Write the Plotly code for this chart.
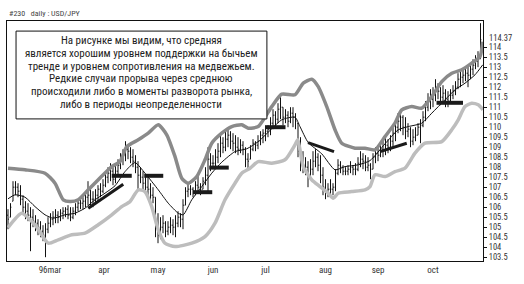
import plotly.graph_objects as go

# ---------------- data ----------------
highs = [105.9,106.2,107.3,107.3,107.2,107.1,106.6,106.3,106.2,106.0,
         105.9,105.6,105.4,105.3,105.1,105.2,105.5,105.7,105.8,105.9,
         105.8,105.9,106.0,106.0,106.1,106.0,106.0,106.2,106.4,106.4,
         106.5,106.8,107.3,106.9,106.8,106.9,107.1,107.2,107.4,107.8,
         108.0,108.2,108.0,108.1,108.4,108.7,108.9,109.3,109.1,109.0,
         108.9,108.6,108.3,108.0,107.8,107.6,107.5,107.2,107.0,106.5,
         105.7,105.5,105.6,105.3,105.3,105.5,105.4,105.6,105.8,105.7,
         106.4,107.0,107.2,107.1,107.0,107.3,107.6,107.2,107.5,108.0,
         109.0,108.7,108.6,108.9,109.2,109.6,109.5,109.9,110.0,109.8,
         109.7,109.6,109.5,109.4,109.3,109.0,108.7,109.1,109.4,109.3,
         109.6,109.8,109.9,110.0,110.1,110.5,110.9,110.8,111.2,111.5,
         111.0,110.9,110.8,111.0,111.0,110.7,110.2,109.5,108.8,108.5,
         108.3,108.4,108.8,108.9,108.7,108.6,108.0,107.4,107.2,107.4,
         107.2,107.9,108.4,108.3,108.1,108.0,108.1,108.3,108.1,108.2,
         108.5,108.8,108.7,108.6,108.5,108.2,108.7,109.0,109.0,109.2,
         109.4,109.5,109.4,109.6,110.0,110.4,110.7,110.9,110.6,110.5,
         110.2,110.0,109.9,110.0,110.2,110.4,110.8,111.3,111.7,111.9,
         112.0,112.4,112.2,112.0,112.1,111.9,111.8,111.9,112.1,112.3,
         112.7,112.8,112.9,113.0,113.1,113.2,113.4,113.6,113.8,115.2]
lows = [104.9,105.5,106.3,106.6,106.5,106.1,105.7,105.4,105.3,103.8,
        105.0,104.8,104.6,104.5,104.3,103.5,104.7,105.0,105.1,105.2,
        105.2,105.3,105.4,105.5,105.4,105.3,105.4,105.6,105.8,105.9,
        105.9,106.0,106.1,106.1,106.0,106.2,106.3,106.5,106.7,107.0,
        107.2,107.3,107.1,107.2,107.6,107.9,108.1,108.3,108.4,108.2,
        108.0,107.7,106.8,107.2,106.9,106.7,106.6,106.3,106.2,104.5,
        104.2,104.4,104.7,104.5,104.6,104.7,104.6,104.5,105.0,105.0,
        104.9,106.1,106.5,106.6,106.5,106.6,106.8,106.6,106.9,107.1,
        106.7,107.8,107.9,108.0,108.2,108.5,108.7,108.8,109.0,108.9,
        108.8,108.7,108.6,108.7,108.6,108.0,107.9,108.4,108.8,108.8,
        108.9,109.1,109.2,109.3,109.5,109.6,109.9,110.0,110.2,110.4,
        110.1,110.2,110.0,110.2,110.0,109.9,108.5,107.8,107.7,107.6,
        107.0,107.4,107.6,108.0,107.8,107.2,106.6,106.4,106.5,106.5,
        106.6,106.8,107.6,107.7,107.6,107.6,107.6,107.7,107.6,107.6,
        107.8,108.0,107.9,107.8,107.8,107.4,107.9,108.2,108.3,108.5,
        108.5,108.6,108.7,108.8,109.0,109.3,109.7,109.8,109.6,109.4,
        109.5,109.0,109.1,109.3,109.6,109.2,110.0,110.3,110.8,110.9,
        111.0,111.3,111.4,111.1,111.3,111.0,111.0,111.2,111.4,111.6,
        111.9,112.0,112.2,112.3,112.0,112.4,112.6,112.9,113.0,113.4]
closes = [105.4,106.0,107.0,107.0,106.8,106.4,106.0,105.8,105.6,105.5,
          105.3,105.2,105.0,104.8,104.6,104.9,105.2,105.4,105.5,105.6,
          105.5,105.7,105.8,105.9,105.6,105.5,105.8,106.0,106.2,106.2,
          106.3,106.5,106.6,106.4,106.4,106.6,106.9,106.8,107.1,107.5,
          107.7,107.8,107.4,107.8,108.1,108.5,108.6,108.9,108.8,108.5,
          108.3,108.0,107.6,107.5,107.2,107.0,106.9,106.6,106.5,105.0,
          104.6,105.0,105.2,104.8,105.0,105.1,105.0,105.2,105.5,105.4,
          106.1,106.8,106.9,106.9,106.8,107.1,107.0,106.9,107.3,107.6,
          108.4,108.2,108.2,108.5,108.8,109.2,109.0,109.4,109.6,109.3,
          109.2,109.0,108.9,109.1,108.9,108.4,108.3,108.9,109.2,109.1,
          109.3,109.6,109.7,109.8,109.9,110.2,110.6,110.4,110.9,111.0,
          110.5,110.6,110.3,110.7,110.5,110.3,108.8,108.2,108.1,108.0,
          107.6,107.9,108.3,108.5,108.1,107.6,107.0,106.8,106.9,106.9,
          107.0,107.7,108.1,108.0,107.8,107.8,107.9,108.0,107.9,107.9,
          108.2,108.4,108.3,108.0,108.1,107.9,108.5,108.7,108.6,108.9,
          108.8,109.1,109.0,109.3,109.7,110.0,110.3,110.5,110.0,109.8,
          109.9,109.3,109.5,109.6,110.0,110.1,110.5,111.0,111.3,111.4,
          111.6,111.9,111.8,111.5,111.7,111.4,111.3,111.6,111.8,112.0,
          112.4,112.5,112.6,112.7,112.6,112.9,113.1,113.3,113.5,114.37]
opens = [105.6,105.5,106.3,107.0,107.0,106.8,106.4,106.0,105.8,105.6,
         105.5,105.3,105.2,105.0,104.8,104.6,104.9,105.2,105.4,105.5,
         105.6,105.5,105.7,105.8,105.9,105.6,105.5,105.8,106.0,106.2,
         106.2,106.3,106.5,106.6,106.4,106.4,106.6,106.9,106.8,107.1,
         107.5,107.7,107.8,107.4,107.8,108.1,108.5,108.6,108.9,108.8,
         108.5,108.3,108.0,107.6,107.5,107.2,107.0,106.9,106.6,106.5,
         105.0,104.6,105.0,105.2,104.8,105.0,105.1,105.0,105.2,105.5,
         105.4,106.1,106.8,106.9,106.9,106.8,107.1,107.0,106.9,107.3,
         107.6,108.4,108.2,108.2,108.5,108.8,109.2,109.0,109.4,109.6,
         109.3,109.2,109.0,108.9,109.1,108.9,108.4,108.4,108.9,109.2,
         109.1,109.3,109.6,109.7,109.8,109.9,110.2,110.6,110.4,110.9,
         111.0,110.5,110.6,110.3,110.7,110.5,110.2,108.8,108.2,108.1,
         108.0,107.6,107.9,108.3,108.5,108.1,107.6,107.0,106.8,106.9,
         106.9,107.0,107.7,108.1,108.0,107.8,107.8,107.9,108.0,107.9,
         107.9,108.2,108.4,108.3,108.0,108.1,107.9,108.5,108.7,108.6,
         108.9,108.8,109.1,109.0,109.3,109.7,110.0,110.3,110.5,110.0,
         109.8,109.9,109.3,109.5,109.6,110.0,110.1,110.5,111.0,111.3,
         111.4,111.6,111.9,111.8,111.5,111.7,111.4,111.3,111.6,111.8,
         112.0,112.4,112.5,112.6,112.7,112.6,112.9,113.1,113.3,113.5]
bar_index = list(range(len(closes)))

ma_x = [0,2.8,6.8,10.8,14.8,18.1,22.8,26.8,30.8,34.8,38.8,42.8,46.8,50.8,54.8,60.1,64.1,68.1,70.1,
        73.5,77.5,81.5,85.5,90.8,95.5,100.1,105.5,109.5,114.8,116.8,120.1,125.5,130.8,134.8,140.1,
        144.8,150.8,156.1,160.1,165.5,169.5,174.8,178.8,182.8,186.8,189.9]
ma_y = [106.42,106.62,106.50,106.03,105.62,105.45,105.62,105.70,105.95,106.37,106.70,107.07,107.78,
        108.23,107.70,106.87,106.20,105.70,105.62,106.37,107.03,107.70,108.25,108.78,108.92,109.28,
        109.92,110.37,110.50,110.03,109.23,108.67,107.87,108.03,108.12,108.33,109.17,109.87,110.03,
        110.20,110.70,111.37,111.87,112.20,112.62,113.12]

upper_x = [0,6.8,14.8,18.8,22.1,24.8,28.1,32.1,36.1,41.5,44.8,47.5,52.1,56.1,60.1,63.5,66.8,69.5,
           72.1,75.5,78.8,81.5,85.5,89.5,93.5,96.1,100.1,105.5,109.5,114.8,118.1,121.5,124.1,127.5,
           130.8,133.5,138.8,142.8,146.8,150.8,154.8,157.5,161.5,165.5,169.5,173.5,177.5,181.5,
           185.5,188.8,189.9]
upper_y = [107.95,107.87,107.70,107.20,106.37,106.28,106.37,106.87,107.37,108.03,108.28,109.03,
           109.37,109.70,110.12,109.62,108.53,107.45,107.20,107.53,108.37,109.20,109.70,110.03,
           110.12,109.95,110.03,111.03,111.65,111.62,112.20,112.40,112.03,111.03,109.87,109.20,
           108.95,108.95,108.87,109.53,110.20,110.87,111.03,110.95,111.53,112.28,112.70,112.87,
           113.20,113.53,114.28]

lower_x = [0,5.5,10.8,16.1,20.1,25.5,30.8,36.1,41.5,45.5,48.8,52.1,54.8,57.5,60.1,62.8,66.8,73.5,
           78.8,82.8,86.8,90.8,93.5,96.8,100.1,105.5,110.8,114.8,115.9,116.8,118.1,121.5,124.8,
           128.1,130.1,132.1,137.5,142.8,144.8,146.8,150.8,154.8,158.8,162.8,166.8,173.5,177.5,
           180.1,182.8,185.5,188.1,190.0]
lower_y = [104.98,105.70,105.12,104.20,104.37,104.62,104.70,105.12,105.62,106.03,106.28,106.87,
           106.78,106.03,104.87,104.20,104.03,104.20,104.53,105.20,106.37,107.20,107.70,107.95,
           108.28,108.20,108.37,109.12,109.37,108.87,108.03,107.37,107.03,106.70,106.45,106.70,
           106.78,106.87,107.03,107.62,107.53,107.78,107.95,108.70,109.20,109.28,109.87,110.37,
           111.03,111.20,111.12,110.87]

seg_x0 = [32.1, 41.5, 54.5, 74.0, 80.5, 102.8, 120.0, 148.8, 171.4]
seg_x1 = [46.1, 49.5, 62.1, 81.7, 88.3, 111.0, 130.4, 159.5, 182.0]
seg_y0 = [105.95, 107.57, 107.57, 106.75, 107.98, 110.0, 109.23, 108.78, 111.22]
seg_y1 = [107.15, 107.57, 107.57, 106.75, 107.98, 110.0, 108.78, 109.20, 111.22]

month_pos = [16.8, 38.4, 60.0, 82.0, 103.0, 127.0, 148.0, 170.0]
month_labels = ["96mar", "apr", "may", "jun", "jul", "aug", "sep", "oct"]

y_ticks = [103.5,104,104.5,105,105.5,106,106.5,107,107.5,108,108.5,109,109.5,
           110,110.5,111,111.5,112,112.5,113,113.5,114]
last_price = 114.37

title_text = "#230   daily : USD/JPY"
note_lines = ["На рисунке мы видим, что средняя",
              "является хорошим уровнем поддержки на бычьем",
              "тренде и уровнем сопротивления на медвежьем.",
              "Редкие случаи прорыва через среднюю",
              "происходили либо в моменты разворота рынка,",
              "либо в периоды неопределенности"]

# ---------------- figure ----------------
FONT = "Liberation Sans Narrow, Roboto Condensed, Liberation Sans, Arial, sans-serif"

fig = go.Figure()
fig.add_trace(go.Ohlc(x=bar_index, open=opens, high=highs, low=lows, close=closes,
                      increasing=dict(line=dict(color="#111111", width=1)),
                      decreasing=dict(line=dict(color="#111111", width=1)),
                      tickwidth=0.35, hoverinfo="skip", showlegend=False))
fig.add_trace(go.Scatter(x=upper_x, y=upper_y, mode="lines",
                         line=dict(color="#8a8a8a", width=3.5, shape="spline", smoothing=0.6),
                         hoverinfo="skip", showlegend=False))
fig.add_trace(go.Scatter(x=lower_x, y=lower_y, mode="lines",
                         line=dict(color="#bdbdbd", width=3.5, shape="spline", smoothing=0.6),
                         hoverinfo="skip", showlegend=False))
fig.add_trace(go.Scatter(x=ma_x, y=ma_y, mode="lines",
                         line=dict(color="#111111", width=1, shape="spline", smoothing=0.6),
                         hoverinfo="skip", showlegend=False))
for a, b, c, d in zip(seg_x0, seg_x1, seg_y0, seg_y1):
    fig.add_trace(go.Scatter(x=[a, b], y=[c, d], mode="lines",
                             line=dict(color="#1a1a1a", width=4 if c == d else 3),
                             hoverinfo="skip", showlegend=False))

# text box
box_top, box_bottom = 0.958, 0.592
fig.add_shape(type="rect", xref="paper", yref="paper", x0=0.019, x1=0.546, y0=box_bottom, y1=box_top,
              line=dict(color="#111111", width=1), fillcolor="white", layer="above")
line_step = 12.7 / 240.0
first_y = 1 - (40.7 - 21) / 240.0
for k, txt in enumerate(note_lines):
    fig.add_annotation(xref="paper", yref="paper", x=0.2825, y=first_y - k * line_step,
                       xanchor="center", yanchor="middle", text=txt, showarrow=False,
                       font=dict(family=FONT, size=11, color="#222222"))

# title
fig.add_annotation(xref="paper", yref="paper", x=0.0, y=1.0, yshift=8, xanchor="left", yanchor="middle",
                   text=title_text, showarrow=False,
                   font=dict(family=FONT, size=8, color="#444444"))

# last price label (sits just above the 114 tick label)
fig.add_annotation(xref="paper", yref="y", x=1.0, y=last_price, xshift=4, yshift=1.5,
                   xanchor="left", yanchor="middle", text=f"{last_price:g}", showarrow=False,
                   font=dict(family=FONT, size=8.5, color="#333333"))

fig.update_layout(
    width=524, height=284,
    margin=dict(l=7, r=41, t=21, b=23),
    paper_bgcolor="white", plot_bgcolor="white",
    showlegend=False,
    xaxis=dict(range=[-0.4, 190], showgrid=False, zeroline=False, showline=True, mirror=True,
               linecolor="#111111", linewidth=1, ticks="", tickvals=month_pos, ticktext=month_labels,
               tickfont=dict(family=FONT, size=9, color="#333333"),
               rangeslider=dict(visible=False)),
    yaxis=dict(range=[103.31, 115.31], side="right", showgrid=False, zeroline=False, showline=True,
               mirror=True, linecolor="#111111", linewidth=1, ticks="outside", ticklen=3,
               tickcolor="#111111", tickvals=y_ticks, ticktext=[f"{v:g}" for v in y_ticks],
               tickfont=dict(family=FONT, size=8.5, color="#333333")),
)

fig.write_html("out.html")
